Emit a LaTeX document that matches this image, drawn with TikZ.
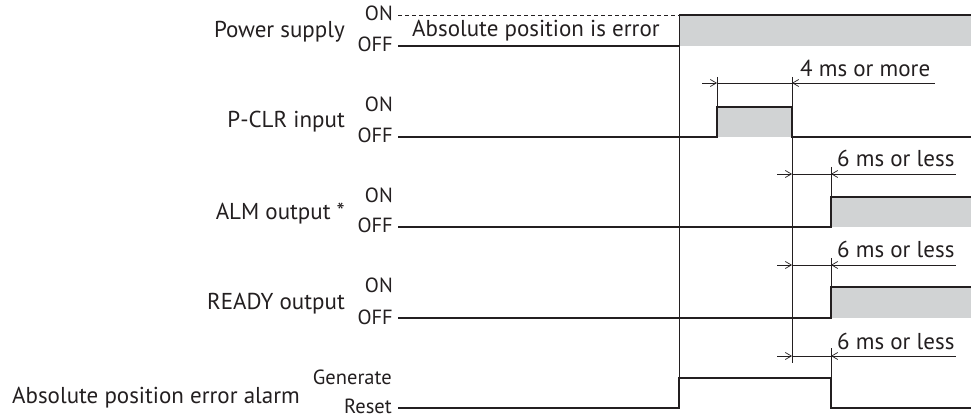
\documentclass[tikz,border=0pt]{standalone}
\usepackage{fontspec}
\setmainfont{PT Sans}
\usetikzlibrary{arrows.meta}
\definecolor{linec}{HTML}{231F20}
\definecolor{grayf}{HTML}{D1D3D4}
\begin{document}
\begin{tikzpicture}[x=1pt,y=-1pt,
  sig/.style={draw=linec, line width=1.2pt},
  guide/.style={draw=linec, line width=0.8pt},
  dimln/.style={draw=linec, line width=0.8pt},
  tipR/.style={dimln, -{Straight Barb[length=6pt,width=7pt,line width=0.7pt]}},
  tipL/.style={dimln, {Straight Barb[length=6pt,width=7pt,line width=0.7pt]}-},
  main/.style={font=\fontsize{23}{26}\selectfont, text=linec, inner sep=0pt, anchor=base east},
  lvl/.style={font=\fontsize{20.5}{23}\selectfont, text=linec, inner sep=0pt, anchor=base east},
  dimtxt/.style={font=\fontsize{23}{26}\selectfont, text=linec, inner sep=0pt, anchor=base west},
  gbox/.style={fill=grayf, draw=none}
]
\useasboundingbox (0,0) rectangle (971,419);

% ---------- left labels ----------
\node[main] (lps) at (345,38) {Power supply};
\node[lvl] (psOn) at (393,21) {ON};
\node[lvl] (psOff) at (393,52) {OFF};

\node[main] (lpc) at (345,128) {P-CLR input};
\node[lvl] (pcOn) at (393,112) {ON};
\node[lvl] (pcOff) at (393,143) {OFF};

\node[main] (lal) at (345,220) {ALM output *};
\node[lvl] (alOn) at (393,203) {ON};
\node[lvl] (alOff) at (393,233) {OFF};

\node[main] (lrd) at (345,310) {READY output};
\node[lvl] (rdOn) at (393,293) {ON};
\node[lvl] (rdOff) at (393,324) {OFF};

\node[main] (lae) at (300,403) {Absolute position error alarm};
\node[lvl] (aeGen) at (392,384) {Generate};
\node[lvl] (aeRes) at (392,413) {Reset};

% ---------- key coordinates ----------
\coordinate (t0) at (679,15);
\coordinate (t0b) at (679,408);
\coordinate (p1) at (717,107);
\coordinate (p2) at (792,107);
\coordinate (r1) at (831,197);

% ---------- Power supply ----------
\fill[grayf] (679,15) rectangle (971,46);
\draw[linec, line width=0.8pt, dash pattern=on 4pt off 3pt] (398,15) -- (679,15);
\draw[sig] (398,46) -- (679,46);
\draw[sig] (679,15) -- (971,15);
\node[dimtxt] (abserr) at (412,37) {Absolute position is error};

% ---------- P-CLR ----------
\fill[grayf] (717,107) rectangle (792,137);
\draw[sig] (398,137) -- (717,137) -- (p1) -- (p2) -- (792,137) -- (971,137);

% ---------- ALM ----------
\fill[grayf] (831,197) rectangle (971,227);
\draw[sig] (398,227) -- (831,227) -- (r1) -- (971,197);

% ---------- READY ----------
\fill[grayf] (831,287) rectangle (971,318);
\draw[sig] (398,318) -- (831,318) -- (831,287) -- (971,287);

% ---------- Alarm ----------
\draw[sig] (398,408) -- (679,408) -- (679,378) -- (831,378) -- (831,408) -- (971,408);

% ---------- guide lines ----------
\draw[guide] (t0) -- (t0b);
\draw[guide] (792,77) -- (792,363);
\draw[guide] (717,77) -- (p1);
\draw[guide] (831,167) -- (r1);
\draw[guide] (831,258) -- (831,287);
\draw[guide] (831,348) -- (831,378);

% ---------- 4 ms dimension ----------
\draw[tipR] (702,83) -- (717,83);
\draw[dimln] (717,83) -- (792,83);
\draw[tipL] (792,83) -- (935,83);
\node[dimtxt] (d4) at (800,77) {4 ms or more};

% ---------- 6 ms dimensions ----------
\foreach \yy/\nm in {174/da,265/db,356/dc}{
  \draw[tipR] (777,\yy) -- (792,\yy);
  \draw[dimln] (792,\yy) -- (831,\yy);
  \draw[tipL] (831,\yy) -- (956,\yy);
  \node[dimtxt] (\nm) at (837,\yy-7) {6 ms or less};
}
\end{tikzpicture}
\end{document}
